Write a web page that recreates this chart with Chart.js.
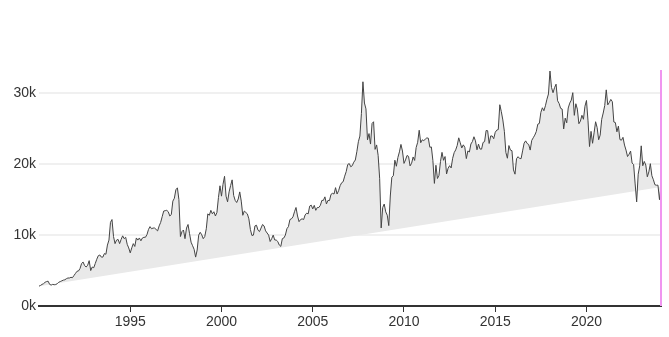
<!DOCTYPE html>
<html>
<head>
<meta charset="utf-8">
<script src="https://cdn.jsdelivr.net/npm/chart.js@4/dist/chart.umd.min.js"></script>
<style>
  html, body { margin: 0; padding: 0; background: #fff; }
  #wrap { width: 669px; height: 337px; }
</style>
</head>
<body>
<div id="wrap"><canvas id="hsiChart"></canvas></div>
<script>
// Hang Seng index, month by month
const hsi1990s = [
  2800, 2900, 3050, 3150, 3350, 3450, 3500, 3050, 2950, 3050, 3000, 3025,
  3150, 3350, 3450, 3550, 3650, 3700, 3850, 3950, 3950, 4050, 4000, 4300,
  4600, 4900, 4950, 5300, 6000, 6200, 5700, 5500, 5750, 6400, 5000, 5500,
  5400, 6000, 6600, 7100, 7200, 6900, 6900, 7400, 7300, 8600, 9300, 11800,
  12201, 9800, 8800, 9300, 9400, 8800, 9400, 9900, 9500, 9700, 8700, 8191,
  7500, 8200, 8800, 8400, 9600, 9300, 9600, 9200, 9600, 9700, 9700, 10073,
  10800, 11200, 10900, 11000, 11000, 10800, 10600, 11300, 11800, 12600, 13400, 13451,
  13500, 13300, 12700, 12900, 14800, 15200, 16400, 16673, 15000, 9800, 10500, 10722,
  9500, 11000, 11500, 10200, 9000, 8500, 8000, 6900, 7900, 10000, 10400, 10048,
  9500, 9800, 10900, 13000, 12800, 13500, 13000, 13300, 12700, 13200, 15300, 16962
];
const hsi2000s = [
  15500, 17169, 18301, 15500, 14700, 16100, 17000, 17800, 15600, 14900, 14600, 15096,
  16100, 14800, 12800, 13400, 13200, 13000, 12300, 10800, 9950, 10000, 11300, 11397,
  10700, 10500, 11000, 11500, 11300, 10600, 10300, 10000, 9100, 9500, 10000, 9321,
  9300, 9100, 8600, 8409, 9500, 9600, 10000, 10900, 11200, 12200, 12300, 12576,
  13300, 13900, 12700, 11900, 12200, 12300, 12200, 12850, 13100, 13000, 14100, 14230,
  13700, 14200, 13500, 13900, 13900, 14200, 14900, 14900, 15400, 14400, 14900, 14876,
  15750, 15900, 15800, 16700, 15800, 16270, 16970, 17390, 17540, 18320, 18960, 19965,
  20100, 19650, 19800, 20300, 20600, 21770, 23180, 23980, 27140, 31638, 28640, 27810,
  23450, 24330, 22850, 25750, 26000, 22100, 22730, 21260, 18020, 11015, 13890, 14390,
  13280, 12810, 11345, 15520, 18170, 18380, 20570, 19720, 20960, 21750, 22800, 21870
];
const hsi2010s = [
  20120, 20610, 21240, 21110, 19770, 20130, 21030, 20540, 22360, 23100, 24800, 23035,
  23450, 23340, 23530, 23720, 23680, 22400, 22440, 20530, 17300, 19860, 17990, 18434,
  20390, 21680, 20560, 21090, 18630, 19440, 19800, 19480, 20840, 21640, 22030, 22657,
  23730, 23020, 22300, 22740, 22390, 20800, 21880, 21730, 22860, 23210, 23880, 23306,
  22040, 22840, 22150, 22130, 23080, 23190, 24760, 24740, 22930, 23998, 23987, 23605,
  24510, 24820, 24900, 28400, 27420, 26250, 24640, 21670, 20850, 22640, 21996, 21914,
  19200, 18600, 20780, 21070, 20820, 20790, 21890, 22980, 23300, 22930, 22790, 22001,
  23360, 23740, 24110, 24620, 25660, 25760, 27320, 27970, 27550, 28250, 29180, 29919,
  33154, 30840, 30090, 30810, 31300, 28960, 28580, 27890, 27790, 24980, 26510, 25846,
  27940, 28630, 29050, 30100, 26900, 28540, 27780, 25720, 26090, 26910, 26350, 28190
];
const hsi2020s = [
  29000, 26130, 22500, 24640, 22960, 24430, 26000, 25180, 23460, 24110, 26340, 27231,
  28280, 30500, 28380, 28720, 29150, 28830, 25960, 25880, 24580, 25380, 23480, 23398,
  23800, 22710, 21997, 21090, 21415, 21860, 20160, 19950, 17220, 14687, 18600, 19781,
  22600, 19790, 20400, 19890, 18230, 18920, 20080, 18380, 17810, 17110, 17040, 17047,
  15000, 16800
];
const decades = [1990, 2000, 2010, 2020];
const xTicks = [1995, 2000, 2005, 2010, 2015, 2020];
const yTicks = [0, 10000, 20000, 30000];

// build {x, y} points, one per month
const points = [];
[hsi1990s, hsi2000s, hsi2010s, hsi2020s].forEach((series, d) => {
  series.forEach((v, i) => points.push({ x: decades[d] + i / 12, y: v }));
});
// closing edge of the area: first point to last point
const baseline = [points[0], points[points.length - 1]];

const markerLine = {
  id: 'markerLine',
  afterDraw(chart) {
    const { ctx, chartArea } = chart;
    ctx.save();
    ctx.strokeStyle = 'rgb(240,150,240)';
    ctx.lineWidth = 2;
    ctx.beginPath();
    ctx.moveTo(chartArea.right, chartArea.top);
    ctx.lineTo(chartArea.right, chartArea.bottom);
    ctx.stroke();
    ctx.restore();
  }
};

const ctx = document.getElementById('hsiChart').getContext('2d');
new Chart(ctx, {
  type: 'line',
  data: {
    datasets: [
      {
        data: points,
        borderColor: '#444',
        borderWidth: 1,
        backgroundColor: '#e9e9e9',
        pointRadius: 0,
        tension: 0,
        fill: '+1'
      },
      {
        data: baseline,
        borderWidth: 0,
        borderColor: 'rgba(0,0,0,0)',
        pointRadius: 0,
        fill: false
      }
    ]
  },
  options: {
    responsive: true,
    maintainAspectRatio: false,
    animation: false,
    layout: { padding: { top: 70, right: 8, left: 0, bottom: 0 } },
    plugins: {
      legend: { display: false },
      tooltip: { enabled: false }
    },
    scales: {
      x: {
        type: 'linear',
        min: 1990,
        max: points[points.length - 1].x,
        afterBuildTicks: (axis) => { axis.ticks = xTicks.map(v => ({ value: v })); },
        afterFit: (axis) => { axis.height = 31; },
        grid: { display: true, drawOnChartArea: false, drawTicks: true, tickLength: 6, color: '#333' },
        border: { display: true, color: '#333', width: 2 },
        ticks: {
          color: '#333',
          padding: 2,
          maxRotation: 0,
          font: { family: 'Liberation Sans', size: 14 },
          callback: (v) => String(v)
        }
      },
      y: {
        min: 0,
        max: 33300,
        afterBuildTicks: (axis) => { axis.ticks = yTicks.map(v => ({ value: v })); },
        afterFit: (axis) => { axis.width = 39; },
        grid: { color: '#f0f0f0', lineWidth: 2, drawTicks: false },
        border: { display: false },
        ticks: {
          color: '#333',
          padding: 3,
          font: { family: 'Liberation Sans', size: 14 },
          callback: (v) => (v / 1000) + 'k'
        }
      }
    }
  },
  plugins: [markerLine]
});
</script>
</body>
</html>
